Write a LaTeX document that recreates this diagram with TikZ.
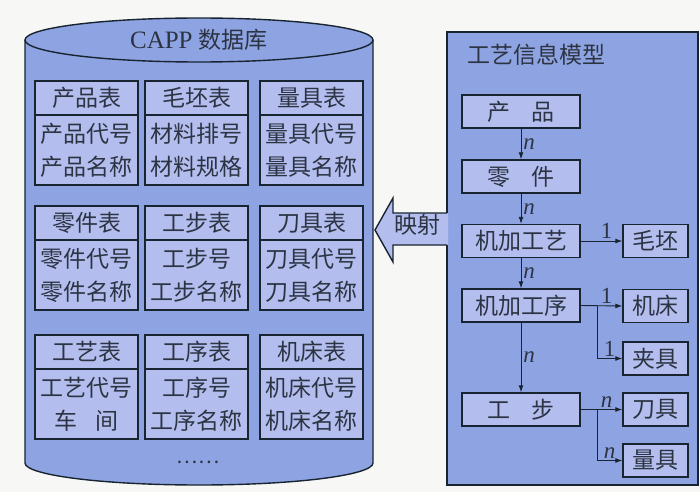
\documentclass[tikz,border=0pt]{standalone}
\usepackage{fontspec}
\setmainfont{Liberation Serif}
\newfontfamily\cjk{Noto Sans CJK SC}
\usetikzlibrary{arrows.meta}
\definecolor{bgc}{RGB}{247,247,246}
\definecolor{cylfill}{RGB}{142,164,226}
\definecolor{tfill}{RGB}{180,190,238}
\definecolor{lnc}{RGB}{24,36,48}
\definecolor{txc}{RGB}{44,52,68}
\tikzset{
  cjkf/.style={font=\cjk\fontsize{23}{33}\selectfont, text=txc},
  hdr/.style={cjkf, draw=lnc, fill=tfill, line width=1.4pt, minimum width=103pt, minimum height=34pt, inner sep=0pt},
  tbody/.style={hdr, minimum height=70pt, align=center},
  mbox/.style={cjkf, draw=lnc, fill=tfill, line width=1.4pt, minimum width=118pt, minimum height=33pt, inner sep=0pt},
  rbox/.style={mbox, minimum width=65pt},
  arr/.style={draw=lnc, line width=0.9pt, -{Latex[length=7pt,width=5pt]}},
  lab/.style={font=\fontsize{23}{23}\selectfont, text=txc, inner sep=2pt}
}
\begin{document}
\begin{tikzpicture}[x=1pt,y=-1pt]
\fill[bgc] (0,0) rectangle (700,492);
\useasboundingbox (0,0) rectangle (700,492);
% cylinder
\path[fill=cylfill, draw=lnc, line width=1.4pt] (25,40) -- (25,463)
  .. controls (25,475.15) and (102.9,485) .. (199,485)
  .. controls (295.1,485) and (373,475.15) .. (373,463) -- (373,40);
\path[fill=cylfill, draw=lnc, line width=1.4pt] (25,40)
  .. controls (25,27.85) and (102.9,18) .. (199,18)
  .. controls (295.1,18) and (373,27.85) .. (373,40)
  .. controls (373,52.15) and (295.1,62) .. (199,62)
  .. controls (102.9,62) and (25,52.15) .. (25,40) -- cycle;
\node[cjkf, font=\fontsize{25}{25}\selectfont] (cap) at (199,40) {CAPP {\cjk\fontsize{23}{23}\selectfont 数据库}};
% row 1
\node[hdr] (h11) at (86.5,98) {产品表};
\node[tbody] (b11) at (86.5,150) {产品代号\\产品名称};
\node[hdr] (h12) at (196.5,98) {毛坯表};
\node[tbody] (b12) at (196.5,150) {材料排号\\材料规格};
\node[hdr] (h13) at (311.5,98) {量具表};
\node[tbody] (b13) at (311.5,150) {量具代号\\量具名称};
% row 2
\node[hdr] (h21) at (86.5,223) {零件表};
\node[tbody] (b21) at (86.5,275) {零件代号\\零件名称};
\node[hdr] (h22) at (196.5,223) {工步表};
\node[tbody] (b22) at (196.5,275) {工步号\\工步名称};
\node[hdr] (h23) at (311.5,223) {刀具表};
\node[tbody] (b23) at (311.5,275) {刀具代号\\刀具名称};
% row 3
\node[hdr] (h31) at (86.5,352) {工艺表};
\node[tbody] (b31) at (86.5,404) {工艺代号\\车\hspace{0.8em}间};
\node[hdr] (h32) at (196.5,352) {工序表};
\node[tbody] (b32) at (196.5,404) {工序号\\工序名称};
\node[hdr] (h33) at (311.5,352) {机床表};
\node[tbody] (b33) at (311.5,404) {机床代号\\机床名称};
\node[cjkf, font=\cjk\fontsize{20}{20}\selectfont] (dots) at (198,462) {……};
% right model box
\path[fill=cylfill, draw=lnc, line width=1.4pt] (447,32) rectangle (698,485);
\node[cjkf, anchor=west] (title) at (464,55) {工艺信息模型};
% mapping arrow
\path[fill=tfill] (448,213) -- (393,213) -- (393,198) -- (375,230) -- (393,262) -- (393,245) -- (448,245) -- cycle;
\draw[lnc, line width=1.4pt, line join=miter] (447,213) -- (393,213) -- (393,198) -- (375,230) -- (393,262) -- (393,245) -- (447,245);
\node[cjkf] (map) at (417,225) {映射};
% model nodes
\node[mbox] (cp) at (521,111.5) {产\hspace{0.9em}品};
\node[mbox] (lj) at (521,176.5) {零\hspace{0.9em}件};
\node[mbox] (gy) at (521,241) {机加工艺};
\node[mbox] (gx) at (521,305.5) {机加工序};
\node[mbox] (gb) at (521,409.5) {工\hspace{0.9em}步};
\node[rbox] (mp) at (655.5,241) {毛坯};
\node[rbox] (jc) at (655.5,306) {机床};
\node[rbox] (jj) at (655.5,358.5) {夹具};
\node[rbox] (dj) at (655.5,409.5) {刀具};
\node[rbox] (lq) at (655.5,460.5) {量具};
% connectors
\draw[arr] (cp.south) -- node[lab, right] {\textit{n}} (lj.north);
\draw[arr] (lj.south) -- node[lab, right] {\textit{n}} (gy.north);
\draw[arr] (gy.south) -- node[lab, right] {\textit{n}} (gx.north);
\draw[arr] (gx.south) -- node[lab, right] {\textit{n}} (gb.north);
\draw[arr] (gy.east) -- node[lab, above, pos=0.62] {1} (mp.west);
\draw[arr] (gx.east) -- node[lab, above, pos=0.62] {1} (jc.west);
\coordinate (br1) at (597,305.5);
\draw[arr] (br1) |- node[lab, above, pos=0.75] {1} (jj.west);
\draw[arr] (gb.east) -- node[lab, above, pos=0.62] {\textit{n}} (dj.west);
\coordinate (br2) at (597,409.5);
\draw[arr] (br2) |- node[lab, above, pos=0.75] {\textit{n}} (lq.west);
\end{tikzpicture}
\end{document}
